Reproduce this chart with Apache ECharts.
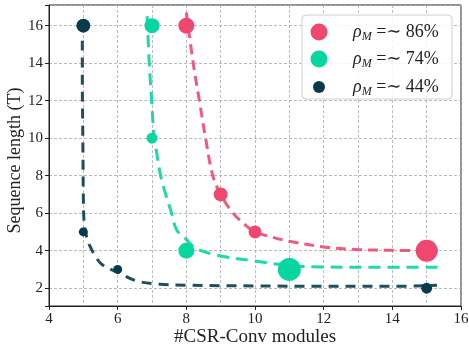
<!DOCTYPE html>
<html>
<head>
<meta charset="utf-8">
<script src="https://cdn.jsdelivr.net/npm/echarts@6/dist/echarts.min.js"></script>
<style>
  html, body { margin: 0; padding: 0; background: #fff; }
  #chart { width: 469px; height: 347px; }
</style>
</head>
<body>
<div id="chart"></div>
<script>
// measured points (x = #CSR-Conv modules, y = sequence length)
var pts86 = [[8, 16], [9, 7], [10, 5], [15, 4]];
var pts74 = [[7, 16], [7, 10], [8, 4], [11, 3]];
var pts44 = [[5, 16], [5, 5], [6, 3], [15, 2]];
// bubble sizes
var size86 = [16, 14, 13, 22];
var size74 = [15, 11, 16, 23];
var size44 = [14, 9, 9, 11];

// fitted dashed curves
var fit86 = [[8.0, 16.7], [8.2, 14], [8.38, 12], [8.56, 10], [8.77, 8], [9.0, 7.0], [9.36, 6], [9.7, 5.4], [10, 5.0],
  [10.5, 4.72], [11, 4.5], [12, 4.2], [13, 4.06], [14, 4.02], [15.33, 4.0]];
var fit74 = [[6.86, 16.5], [6.92, 14], [6.99, 12], [7.06, 10], [7.12, 9.4], [7.25, 8], [7.4, 7], [7.57, 6], [7.72, 5.1],
  [8, 4.6], [8.3, 4.1], [9, 3.72], [10, 3.45], [11, 3.2], [12, 3.13], [13, 3.12], [15.33, 3.12]];
var fit44 = [[4.97, 15.2], [4.97, 13], [4.98, 11], [4.99, 9], [5.0, 7], [5.02, 5.6], [5.1, 4.7], [5.19, 4.25], [5.35, 3.7],
  [5.53, 3.28], [5.8, 3.0], [6.0, 2.85], [6.55, 2.39], [7.23, 2.21], [8, 2.16], [10, 2.12], [12, 2.1], [14, 2.1], [15.3, 2.15]];

var legendNames = ['86', '74', '44'];
var colors = ['#EF476F', '#06D6A0', '#073B4C'];

var serif = '"Liberation Serif", "DejaVu Serif", serif';

var chart = echarts.init(document.getElementById('chart'));

function scatter(name, data, sizes, color) {
  return {
    name: name, type: 'scatter', data: data, z: 2,
    symbolSize: function (v, p) { return sizes[p.dataIndex]; },
    itemStyle: { color: color, opacity: 1 }
  };
}
function fitLine(data, color, dash) {
  return {
    type: 'line', data: data, smooth: 0.35, symbol: 'none', z: 3, silent: true,
    lineStyle: { color: color, width: 3, type: dash, opacity: 0.9 }
  };
}

// legend: one small legend per entry so the markers can have different sizes
var legendTops = [23, 50, 78];
var legendSizes = [17, 17, 12];
var legends = legendNames.map(function (n, i) {
  return {
    data: [n], orient: 'vertical', icon: 'circle', padding: 0,
    left: 319 - legendSizes[i] / 2, top: legendTops[i],
    itemWidth: legendSizes[i], itemHeight: legendSizes[i],
    selectedMode: false,
    formatter: function (name) { return '{i|ρ}{s|M}{t| =∼ ' + name + '%}'; },
    textStyle: {
      padding: [0, 0, 0, 29 - legendSizes[i] / 2],
      rich: {
        i: { fontFamily: serif, fontStyle: 'italic', fontSize: 18, color: '#222' },
        s: { fontFamily: serif, fontStyle: 'italic', fontSize: 12, color: '#222', padding: [9, 0, 0, 0] },
        t: { fontFamily: serif, fontSize: 18, color: '#222' }
      }
    }
  };
});

var gridLine = { show: true, lineStyle: { color: '#aaa', type: [3, 2], width: 0.8 } };

var option = {
  animation: false,
  backgroundColor: '#fff',
  grid: {
    left: 49, right: 8, top: 5, bottom: 41, containLabel: false, outerBoundsMode: 'none',
    show: true, borderColor: '#222', borderWidth: 1, backgroundColor: 'transparent'
  },
  legend: legends,
  graphic: [{
    type: 'rect', z: 3,
    shape: { x: 302, y: 15, width: 150, height: 84, r: 4 },
    style: { fill: 'rgba(255,255,255,0.85)', stroke: '#d0d0d0', lineWidth: 1 }
  }],
  xAxis: {
    type: 'value', min: 4, max: 16, interval: 2,
    name: '#CSR-Conv modules', nameLocation: 'middle', nameGap: 22, nameMoveOverlap: false,
    nameTextStyle: { fontFamily: serif, fontSize: 19, color: '#222' },
    axisLine: { show: true, lineStyle: { color: '#222', width: 1 } },
    axisTick: { show: true, length: 4, lineStyle: { color: '#222' } },
    axisLabel: { fontFamily: serif, fontSize: 15, color: '#222', margin: 6 },
    splitLine: gridLine,
    minorTick: { show: false, splitNumber: 2 },
    minorSplitLine: gridLine
  },
  yAxis: {
    type: 'value', min: 1.05, max: 17.1, splitNumber: 8,
    name: 'Sequence length (T)', nameLocation: 'middle', nameGap: 25, nameMoveOverlap: false,
    nameTextStyle: { fontFamily: serif, fontSize: 18, color: '#222', padding: [0, 10, 0, 0] },
    axisLine: { show: true, lineStyle: { color: '#222', width: 1 } },
    axisTick: { show: true, length: 4, lineStyle: { color: '#222' } },
    axisLabel: {
      fontFamily: serif, fontSize: 15, color: '#222', margin: 6,
      formatter: function (v) { return Math.abs(v % 2) < 1e-9 ? String(v) : ''; }
    },
    splitLine: gridLine
  },
  series: [
    scatter('86', pts86, size86, colors[0]),
    scatter('74', pts74, size74, colors[1]),
    scatter('44', pts44, size44, colors[2]),
    fitLine(fit86, colors[0], [10, 6]),
    fitLine(fit74, colors[1], [12, 7]),
    fitLine(fit44, colors[2], [10, 7])
  ]
};

chart.setOption(option);
</script>
</body>
</html>
